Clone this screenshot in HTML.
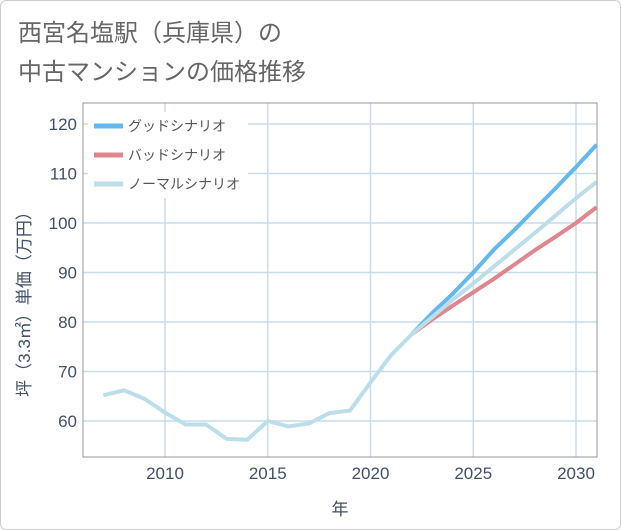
<!DOCTYPE html>
<html><head><meta charset="utf-8"><style>
body{margin:0;background:#fff;font-family:"Liberation Sans","Noto Sans CJK JP",sans-serif}
.card{position:absolute;left:0;top:0;width:619px;height:528px;border:1px solid #ccc;border-radius:6px;background:#fff}
</style></head><body>
<div class="card">
<svg width="621" height="530" style="position:absolute;left:-1px;top:-1px">
<text x="18" y="41" font-size="24" fill="#666">西宮名塩駅（兵庫県）の</text>
<text x="18" y="80" font-size="24" fill="#666">中古マンションの価格推移</text>
<g id="grid"></g><g id="lines"></g>
<rect x="83" y="103" width="514" height="354" fill="none" stroke="#999" stroke-width="1"/>
<g id="legend"></g>
<text x="30" y="300" font-size="17" fill="#3f5068" transform="rotate(-90 30 300)" text-anchor="middle">坪（3.3㎡）単価（万円）</text>
<text x="340" y="515" font-size="17" fill="#3f5068" text-anchor="middle">年</text>
</svg></div>
<script>
const years=[2007,2008,2009,2010,2011,2012,2013,2014,2015,2016,2017,2018,2019,2020,2021,2022];
const history=[65.2,66.2,64.5,61.7,59.3,59.3,56.4,56.2,60,58.9,59.5,61.6,62.1,67.8,73.3,77.5];
const futureYears=[2022,2023,2024,2025,2026,2027,2028,2029,2030,2031];
const good=[77.5,81.8,85.7,90,94.6,98.6,102.8,107,111.3,115.8];
const bad=[77.5,80.5,83.3,86,88.7,91.6,94.5,97.2,100,103.2];
const normal=[77.5,81,84.5,87.8,91.2,94.6,98,101.5,105,108.3];
const xTicks=[2010,2015,2020,2025,2030];
const yTicks=[60,70,80,90,100,110,120];
const NS="http://www.w3.org/2000/svg";
const X=y=>165+(y-2010)*20.55, Y=v=>421-(v-60)*4.95;
function mk(t,a,p){const e=document.createElementNS(NS,t);for(const k in a)e.setAttribute(k,a[k]);document.getElementById(p).appendChild(e);return e;}
xTicks.forEach(t=>{
const l=mk('line',{x1:X(t),x2:X(t),y1:103,y2:457,stroke:'#c8dcea','stroke-width':1.5},'grid');


const tx=mk('text',{x:X(t),y:479,'font-size':17,fill:'#3f5068','text-anchor':'middle'},'grid');tx.textContent=t;


});
yTicks.forEach(t=>{
const l=mk('line',{x1:83,x2:597,y1:Y(t),y2:Y(t),stroke:'#c8dcea','stroke-width':1.5},'grid');


const tx=mk('text',{x:77,y:Y(t)+6,'font-size':17,fill:'#3f5068','text-anchor':'end'},'grid');tx.textContent=t;


});
function line(xs,vs,c,name){const p=mk('polyline',{points:xs.map((x,i)=>X(x)+','+Y(vs[i])).join(' '),fill:'none',stroke:c,'stroke-width':4,'stroke-linejoin':'round','clip-path':'url(#cp)'},'lines');

}
const cp=mk('clipPath',{id:'cp'},'lines');const r=document.createElementNS(NS,'rect');r.setAttribute('x',83);r.setAttribute('y',103);r.setAttribute('width',514);r.setAttribute('height',354);cp.appendChild(r);
line(futureYears,bad,'#e0868e','bad-scenario-line');
line(futureYears,good,'#63b8ef','good-scenario-line');
line(futureYears,normal,'#bcdeeb','normal-scenario-line');
line(years,history,'#bcdeeb','historical-line');
mk('rect',{x:88,y:112,width:160,height:86,fill:'#fff'},'legend');
[['グッドシナリオ','#63b8ef'],['バッドシナリオ','#e0868e'],['ノーマルシナリオ','#bcdeeb']].forEach((d,i)=>{
const y=126+i*29;
const l=mk('line',{x1:94,x2:123,y1:y,y2:y,stroke:d[1],'stroke-width':5},'legend');


const t=mk('text',{x:128,y:y+5,'font-size':14,fill:'#555'},'legend');t.textContent=d[0];


});
</script>
</body></html>
